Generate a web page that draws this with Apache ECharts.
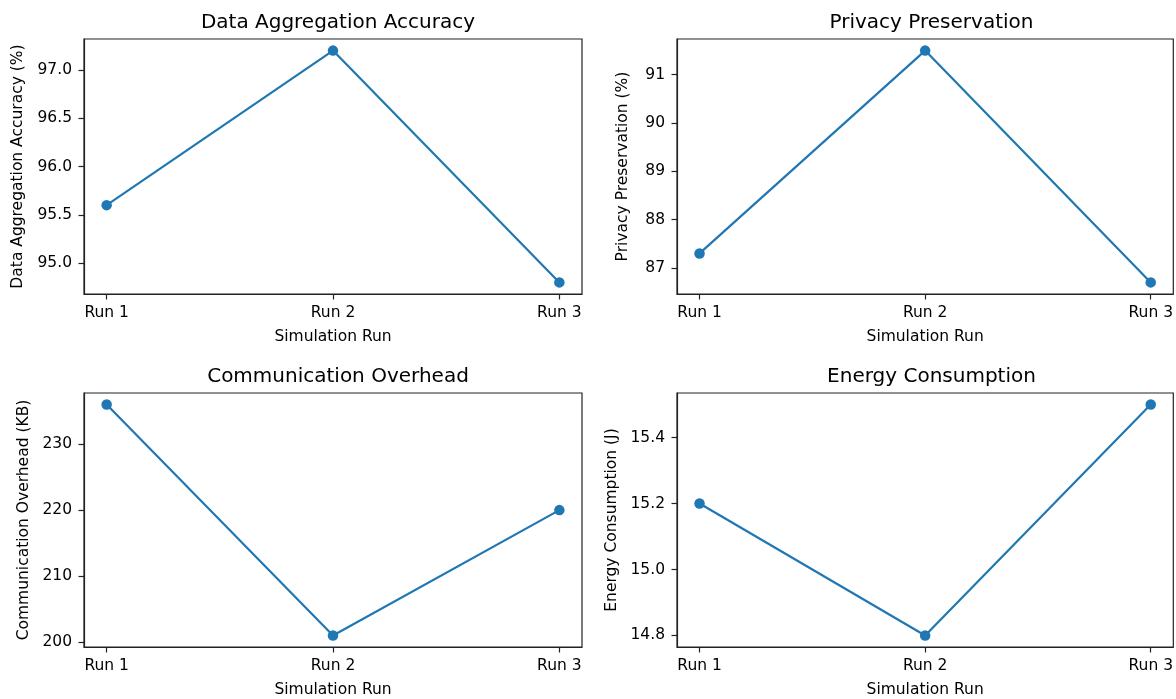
<!DOCTYPE html>
<html>
<head>
<meta charset="utf-8">
<script src="https://cdn.jsdelivr.net/npm/echarts@6/dist/echarts.min.js"></script>
<style>
html,body{margin:0;padding:0;background:#fff;}
#chart{width:1176px;height:699px;}
</style>
</head>
<body>
<div id="chart"></div>
<script>
// ---- data ----
const categories = ['Run 1', 'Run 2', 'Run 3'];
const accuracy = [95.6, 97.2, 94.8];
const privacy = [87.3, 91.5, 86.7];
const overhead = [236, 201, 220];
const energy = [15.2, 14.8, 15.5];
const accTicks = [95.0, 95.5, 96.0, 96.5, 97.0];
const privTicks = [87, 88, 89, 90, 91];
const ohTicks = [200, 210, 220, 230];
const enTicks = [14.8, 15.0, 15.2, 15.4];
const titles = ['Data Aggregation Accuracy', 'Privacy Preservation', 'Communication Overhead', 'Energy Consumption'];
const yNames = ['Data Aggregation Accuracy (%)', 'Privacy Preservation (%)', 'Communication Overhead (KB)', 'Energy Consumption (J)'];
const xName = 'Simulation Run';

const FONT = 'DejaVu Sans';
const COLOR = '#1f77b4';
const panels = [
  {vals: accuracy, ticks: accTicks, dec: 1, grid: {left: 84, top: 39, width: 498, height: 255}, nameGap: 58},
  {vals: privacy, ticks: privTicks, dec: 0, grid: {left: 677, top: 39, width: 499, height: 255}, nameGap: 46},
  {vals: overhead, ticks: ohTicks, dec: 0, grid: {left: 84, top: 393, width: 498, height: 255}, nameGap: 52},
  {vals: energy, ticks: enTicks, dec: 1, grid: {left: 677, top: 393, width: 499, height: 255}, nameGap: 57}
];

const xIdx = categories.map((c, i) => i);
const option = {
  animation: false,
  backgroundColor: '#fff',
  title: [], grid: [], xAxis: [], yAxis: [], series: []
};
const lineSt = {color: '#222', width: 1.2};

panels.forEach((p, k) => {
  const lo = Math.min(...p.vals), hi = Math.max(...p.vals);
  const m = (hi - lo) * 0.05;
  option.title.push({
    text: titles[k],
    left: p.grid.left + p.grid.width / 2,
    top: p.grid.top - 31,
    textAlign: 'center',
    textStyle: {fontFamily: FONT, fontSize: 20, fontWeight: 'normal', color: '#000'}
  });
  option.grid.push(Object.assign({show: true, borderColor: '#222', borderWidth: 1.2, backgroundColor: 'transparent'}, p.grid));
  option.xAxis.push({
    type: 'value', gridIndex: k, min: -0.1, max: 2.1, position: 'bottom',
    name: xName, nameLocation: 'middle', nameGap: 35,
    nameTextStyle: {fontFamily: FONT, fontSize: 15.5, color: '#000'},
    axisLine: {show: true, onZero: false, lineStyle: lineSt},
    splitLine: {show: false},
    axisTick: {show: true, inside: false, length: 5.5, lineStyle: lineSt, customValues: xIdx},
    axisLabel: {fontFamily: FONT, fontSize: 15.5, color: '#000', margin: 11,
      customValues: xIdx, formatter: v => categories[Math.round(v)]}
  });
  option.yAxis.push({
    type: 'value', gridIndex: k, min: lo - m, max: hi + m, position: 'left',
    name: yNames[k], nameLocation: 'middle', nameGap: p.nameGap, nameRotate: 90,
    nameTextStyle: {fontFamily: FONT, fontSize: 15.5, color: '#000'},
    axisLine: {show: true, onZero: false, lineStyle: lineSt},
    splitLine: {show: false},
    axisTick: {show: true, inside: false, length: 5.5, lineStyle: lineSt, customValues: p.ticks},
    axisLabel: {fontFamily: FONT, fontSize: 15.5, color: '#000', margin: 12,
      customValues: p.ticks, formatter: v => Number(v).toFixed(p.dec)}
  });
  option.series.push({
    type: 'line', xAxisIndex: k, yAxisIndex: k,
    data: p.vals.map((v, i) => [xIdx[i], v]),
    symbol: 'circle', symbolSize: 10.5,
    lineStyle: {color: COLOR, width: 2.2},
    itemStyle: {color: COLOR},
    clip: false
  });
});

const chart = echarts.init(document.getElementById('chart'), null, {renderer: 'canvas'});
chart.setOption(option);
</script>
</body>
</html>
